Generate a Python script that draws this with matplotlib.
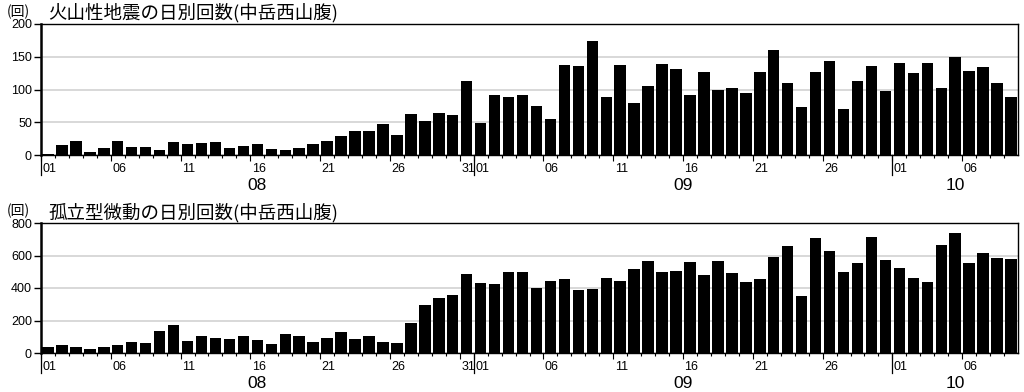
import matplotlib
matplotlib.use("Agg")
import matplotlib.pyplot as plt
from matplotlib import font_manager
import matplotlib.transforms as mtransforms

# ---- data ----
months = ["08", "09", "10"]
month_days = [31, 30, 9]            # days shown in each month
day_labels = ["01", "06", "11", "16", "21", "26", "31"]

quake = [2, 15, 22, 5, 10, 22, 12, 12, 8, 20, 17, 19, 20, 10, 14, 17, 9, 8, 10, 17,
         22, 29, 37, 37, 47, 31, 62, 52, 64, 61, 113,
         49, 92, 88, 91, 75, 55, 137, 136, 174, 88, 138, 80, 106, 139, 132, 91, 127, 100, 102,
         94, 127, 160, 110, 73, 127, 144, 70, 113, 136, 97,
         141, 125, 140, 102, 149, 128, 135, 110, 88]
tremor = [35, 49, 37, 25, 35, 47, 70, 64, 135, 170, 72, 107, 90, 84, 107, 80, 57, 119, 103, 68,
          90, 129, 84, 105, 66, 62, 183, 295, 341, 359, 488,
          429, 427, 496, 498, 400, 445, 453, 388, 394, 459, 443, 517, 564, 500, 505, 562, 478, 566, 492,
          435, 455, 593, 656, 353, 708, 626, 500, 552, 716, 570,
          523, 459, 437, 665, 736, 556, 617, 583, 576]

titles = ["火山性地震の日別回数(中岳西山腹)", "孤立型微動の日別回数(中岳西山腹)"]
unit = "(回)"
ymax = [200, 800]
ystep = [50, 200]

names = {f.name for f in font_manager.fontManager.ttflist}
narrow = "Liberation Sans Narrow" if "Liberation Sans Narrow" in names else "Liberation Sans"
jp = "Noto Sans CJK JP"

W, H = 1024, 392
fig = plt.figure(figsize=(W / 100, H / 100), dpi=100)

def fx(px):
    return px / W

def fy(py):
    return 1 - py / H

panels = [
    dict(top=24, bottom=155, data=quake),
    dict(top=223, bottom=353, data=tremor),
]
left, right = 41, 1018
ndays = sum(month_days)

for k, p in enumerate(panels):
    ax = fig.add_axes([fx(left), fy(p["bottom"]), fx(right - left), (p["bottom"] - p["top"]) / H])
    vals = p["data"]
    xs = [i + 0.5 for i in range(len(vals))]
    ax.bar(xs, vals, width=0.82, color="black", zorder=3)
    ax.set_xlim(0, ndays)
    ax.set_ylim(0, ymax[k])
    yt = list(range(0, ymax[k] + 1, ystep[k]))
    ax.set_yticks(yt)
    ax.set_yticklabels([str(v) for v in yt], fontfamily=narrow, fontsize=9)
    ax.yaxis.grid(True, color="#d6d6d6", linewidth=1.3, zorder=0)
    ax.set_axisbelow(True)
    ax.tick_params(axis="y", direction="out", length=5, width=1, pad=1.5)
    for s in ["top", "right", "bottom"]:
        ax.spines[s].set_linewidth(1.0)
        ax.spines[s].set_color("black")
    ax.spines["left"].set_linewidth(1.8)

    # x ticks
    minor = list(range(ndays))
    major = []
    major_lbl = []
    starts = []
    start = 0
    for m, nd in zip(months, month_days):
        starts.append(start)
        for d in range(1, nd + 1):
            lbl = f"{d:02d}"
            if lbl in day_labels:
                major.append(start + d - 1)
                major_lbl.append(lbl)
        start += nd
    ax.set_xticks(minor, minor=True)
    ax.set_xticks(major)
    ax.set_xticklabels(major_lbl, fontfamily=narrow, fontsize=9)
    for t in ax.get_xticklabels():
        t.set_horizontalalignment("left")
    ax.tick_params(axis="x", which="minor", direction="out", length=2.5, width=0.8)
    ax.tick_params(axis="x", which="major", direction="out", length=4, width=0.8, pad=2)
    offset = mtransforms.ScaledTranslation(1.5 / 100, 0, fig.dpi_scale_trans)
    for t in ax.get_xticklabels():
        t.set_transform(t.get_transform() + offset)

    trans = mtransforms.blended_transform_factory(ax.transData, ax.transAxes)
    axh = p["bottom"] - p["top"]
    for s0, m, nd in zip(starts, months, month_days):
        ax.plot([s0, s0], [0, -20 / axh], transform=trans, color="black",
                linewidth=0.9, clip_on=False, zorder=5)
        ax.text(s0 + nd / 2, -30 / axh, m, transform=trans, ha="center", va="center",
                fontfamily=narrow, fontsize=12.5)

    # titles
    ty = 12.5 if k == 0 else 213
    uy = 12 if k == 0 else 211
    fig.text(fx(18), fy(uy), unit, ha="center", va="center", fontfamily=jp, fontsize=10)
    fig.text(fx(48), fy(ty), titles[k], ha="left", va="center", fontfamily=jp, fontsize=13.3)

fig.savefig("out.png", dpi=100)
